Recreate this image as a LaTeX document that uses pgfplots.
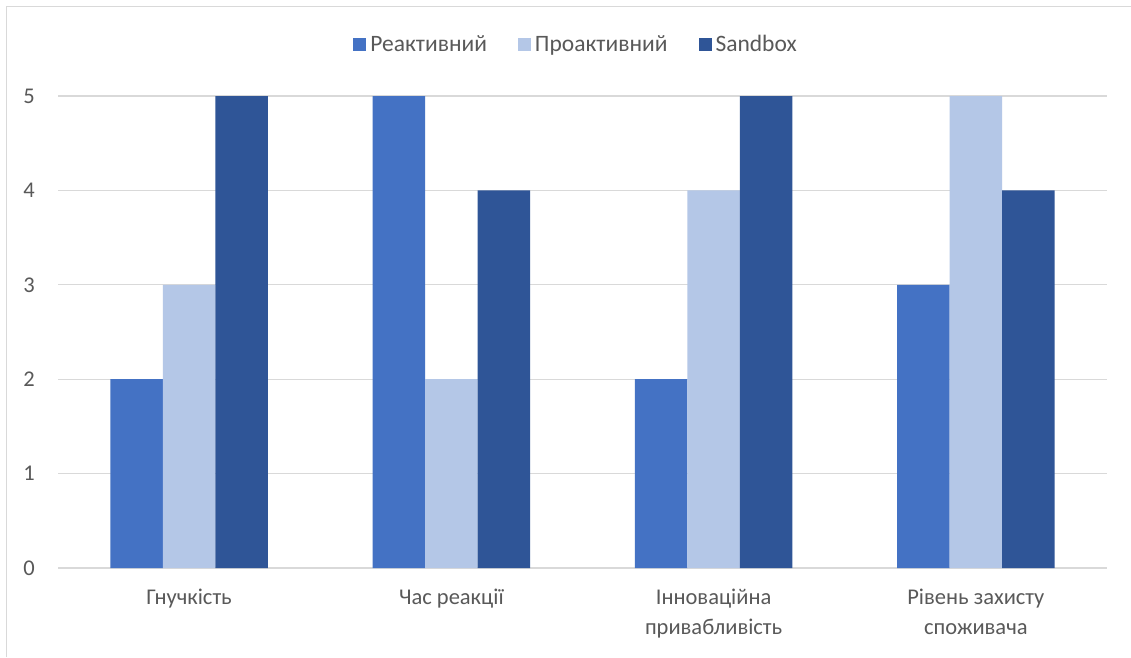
\documentclass[border=0pt]{standalone}
\usepackage{fontspec}
\setmainfont{Carlito}
\usepackage{pgfplots}
\pgfplotsset{compat=1.18}

\definecolor{reactive}{HTML}{4472C4}
\definecolor{proactive}{HTML}{B4C7E7}
\definecolor{sandbox}{HTML}{2F5597}
\definecolor{txt}{HTML}{595959}
\definecolor{gridc}{HTML}{D9D9D9}

\begin{document}
\begin{tikzpicture}[x=1pt,y=1pt]
  \useasboundingbox (0,0) rectangle (1131,657);
  \fill[white] (0,0) rectangle (1131,657);
  % chart area border (left and top edges)
  \draw[gridc, line width=1.5pt] (6.5,0) -- (6.5,650.5) -- (1131,650.5);
  \begin{axis}[
    at={(58pt,89pt)}, anchor=south west,
    scale only axis,
    width=1049pt, height=472pt,
    ybar=0pt, bar width=52.5pt,
    xmin=-0.5, xmax=3.5,
    ymin=0, ymax=5,
    ytick={0,1,2,3,4,5},
    xtick=data,
    xticklabels={Гнучкість, Час реакції, Інноваційна\\привабливість, Рівень захисту\\споживача},
    axis line style={draw=none},
    major tick length=0pt,
    ymajorgrids,
    grid style={gridc, line width=1.2pt},
    /pgf/number format/assume math mode=true,
    tick label style={font=\fontsize{22.5}{30}\selectfont, text=txt},
    yticklabel style={inner sep=0pt, xshift=-23pt},
    xticklabel style={align=center, inner sep=0pt, yshift=-21pt},
    legend style={at={(0.4948,1.11)}, anchor=center, draw=none, fill=none,
      font=\fontsize{23.5}{26}\selectfont, text=txt, legend columns=3,
      /tikz/every even column/.append style={column sep=27pt},
      nodes={inner xsep=4pt}},
    legend image code/.code={\fill[#1] (0pt,-6.5pt) rectangle (13pt,6.5pt);},
  ]
    \addplot[fill=reactive, draw=none] coordinates {(0,2) (1,5) (2,2) (3,3)};
    \addplot[fill=proactive, draw=none] coordinates {(0,3) (1,2) (2,4) (3,5)};
    \addplot[fill=sandbox, draw=none] coordinates {(0,5) (1,4) (2,5) (3,4)};
    \legend{Реактивний, Проактивний, Sandbox}
  \end{axis}
\end{tikzpicture}
\end{document}
